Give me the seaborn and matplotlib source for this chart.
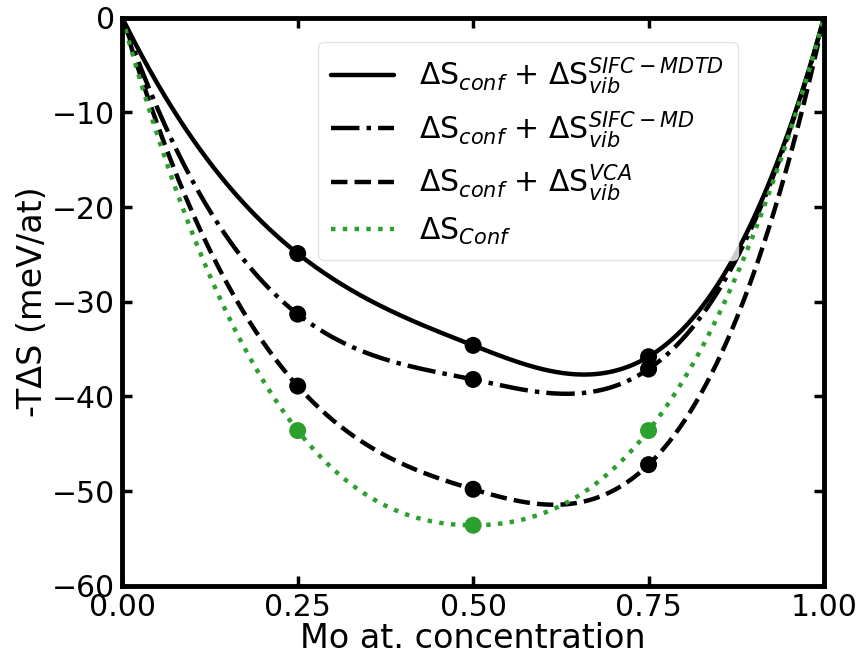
import numpy as np
import pandas as pd
import matplotlib
matplotlib.use("Agg")
import matplotlib.pyplot as plt
import seaborn as sns

# =====================
# 数据
# =====================
x_mo = [0.0, 0.25, 0.50, 0.75, 1.0]
s_mdtd = [0.0, -24.9, -34.6, -35.8, 0.0]
s_md = [0.0, -31.3, -38.2, -37.1, 0.0]
s_vca = [0.0, -38.9, -49.8, -47.2, 0.0]
s_conf = [0.0, -43.6, -53.6, -43.6, 0.0]

LABELS = [
    r"ΔS$_{conf}$ + ΔS$_{vib}^{SIFC-MDTD}$",
    r"ΔS$_{conf}$ + ΔS$_{vib}^{SIFC-MD}$",
    r"ΔS$_{conf}$ + ΔS$_{vib}^{VCA}$",
    r"ΔS$_{Conf}$",
]
GREEN = "#2ca02c"


def cubic_spline(xk, yk, xs):
    # not-a-knot cubic spline through the measured points
    xk = np.asarray(xk, float)
    yk = np.asarray(yk, float)
    n = len(xk) - 1
    h = np.diff(xk)
    A = np.zeros((4 * n, 4 * n))
    rhs = np.zeros(4 * n)
    r = 0
    for i in range(n):
        A[r, 4 * i] = 1
        rhs[r] = yk[i]
        r += 1
        A[r, 4 * i:4 * i + 4] = [1, h[i], h[i] ** 2, h[i] ** 3]
        rhs[r] = yk[i + 1]
        r += 1
    for j in range(1, n):
        hp = h[j - 1]
        A[r, 4 * (j - 1):4 * j] = [0, 1, 2 * hp, 3 * hp ** 2]
        A[r, 4 * j + 1] = -1
        r += 1
        A[r, 4 * (j - 1):4 * j] = [0, 0, 2, 6 * hp]
        A[r, 4 * j + 2] = -2
        r += 1
    A[r, 3] = 1
    A[r, 7] = -1
    r += 1
    A[r, 4 * (n - 2) + 3] = 1
    A[r, 4 * (n - 1) + 3] = -1
    coef = np.linalg.solve(A, rhs).reshape(n, 4)
    idx = np.clip(np.searchsorted(xk, xs, side="right") - 1, 0, n - 1)
    t = xs - xk[idx]
    c = coef[idx]
    return c[:, 0] + c[:, 1] * t + c[:, 2] * t ** 2 + c[:, 3] * t ** 3


def main():
    sns.set_theme(style="ticks")
    plt.rcParams["font.family"] = ["DejaVu Sans"]
    plt.rcParams["mathtext.fontset"] = "dejavusans"
    for k in ["text.color", "axes.labelcolor", "xtick.color", "ytick.color"]:
        plt.rcParams[k] = "black"

    fig, ax = plt.subplots(figsize=(8.61, 6.59), dpi=100)
    fig.subplots_adjust(left=0.142, right=0.957, top=0.973, bottom=0.111)

    xs = np.linspace(0, 1, 400)
    series = [s_mdtd, s_md, s_vca, s_conf]
    styles = ["-", "-.", "--", ":"]
    colors = ["black", "black", "black", GREEN]

    for ys, ls, col, lab in zip(series, styles, colors, LABELS):
        curve = pd.DataFrame({"x": xs, "y": cubic_spline(x_mo, ys, xs)})
        sns.lineplot(data=curve, x="x", y="y", ax=ax, color=col,
                     linestyle=ls, linewidth=3.2, label=lab)
        pts = pd.DataFrame({"x": x_mo[1:-1], "y": ys[1:-1]})
        sns.scatterplot(data=pts, x="x", y="y", ax=ax, color=col,
                        s=150, edgecolor="none", zorder=5)

    ax.set_xlim(0, 1)
    ax.set_ylim(-60, 0)
    ax.set_xticks([0, 0.25, 0.5, 0.75, 1.0])
    ax.set_xticklabels(["0.00", "0.25", "0.50", "0.75", "1.00"])
    ax.set_yticks(range(-60, 1, 10))
    ax.tick_params(direction="in", length=7, width=2.5, labelsize=21.5,
                   top=True, right=True, pad=5)
    for sp in ax.spines.values():
        sp.set_linewidth(3.5)
        sp.set_color("black")

    ax.set_xlabel("Mo at. concentration", fontsize=24, labelpad=0)
    ax.set_ylabel("-TΔS (meV/at)", fontsize=24, labelpad=2)

    leg = ax.legend(loc="upper right", bbox_to_anchor=(0.877, 0.958),
                    borderaxespad=0, fontsize=21.5, frameon=True,
                    handlelength=2.1, handletextpad=0.85, labelspacing=0.42,
                    borderpad=0.45)
    leg.get_frame().set_edgecolor("#dddddd")

    plt.savefig("out.png", dpi=100)


if __name__ == "__main__":
    main()
